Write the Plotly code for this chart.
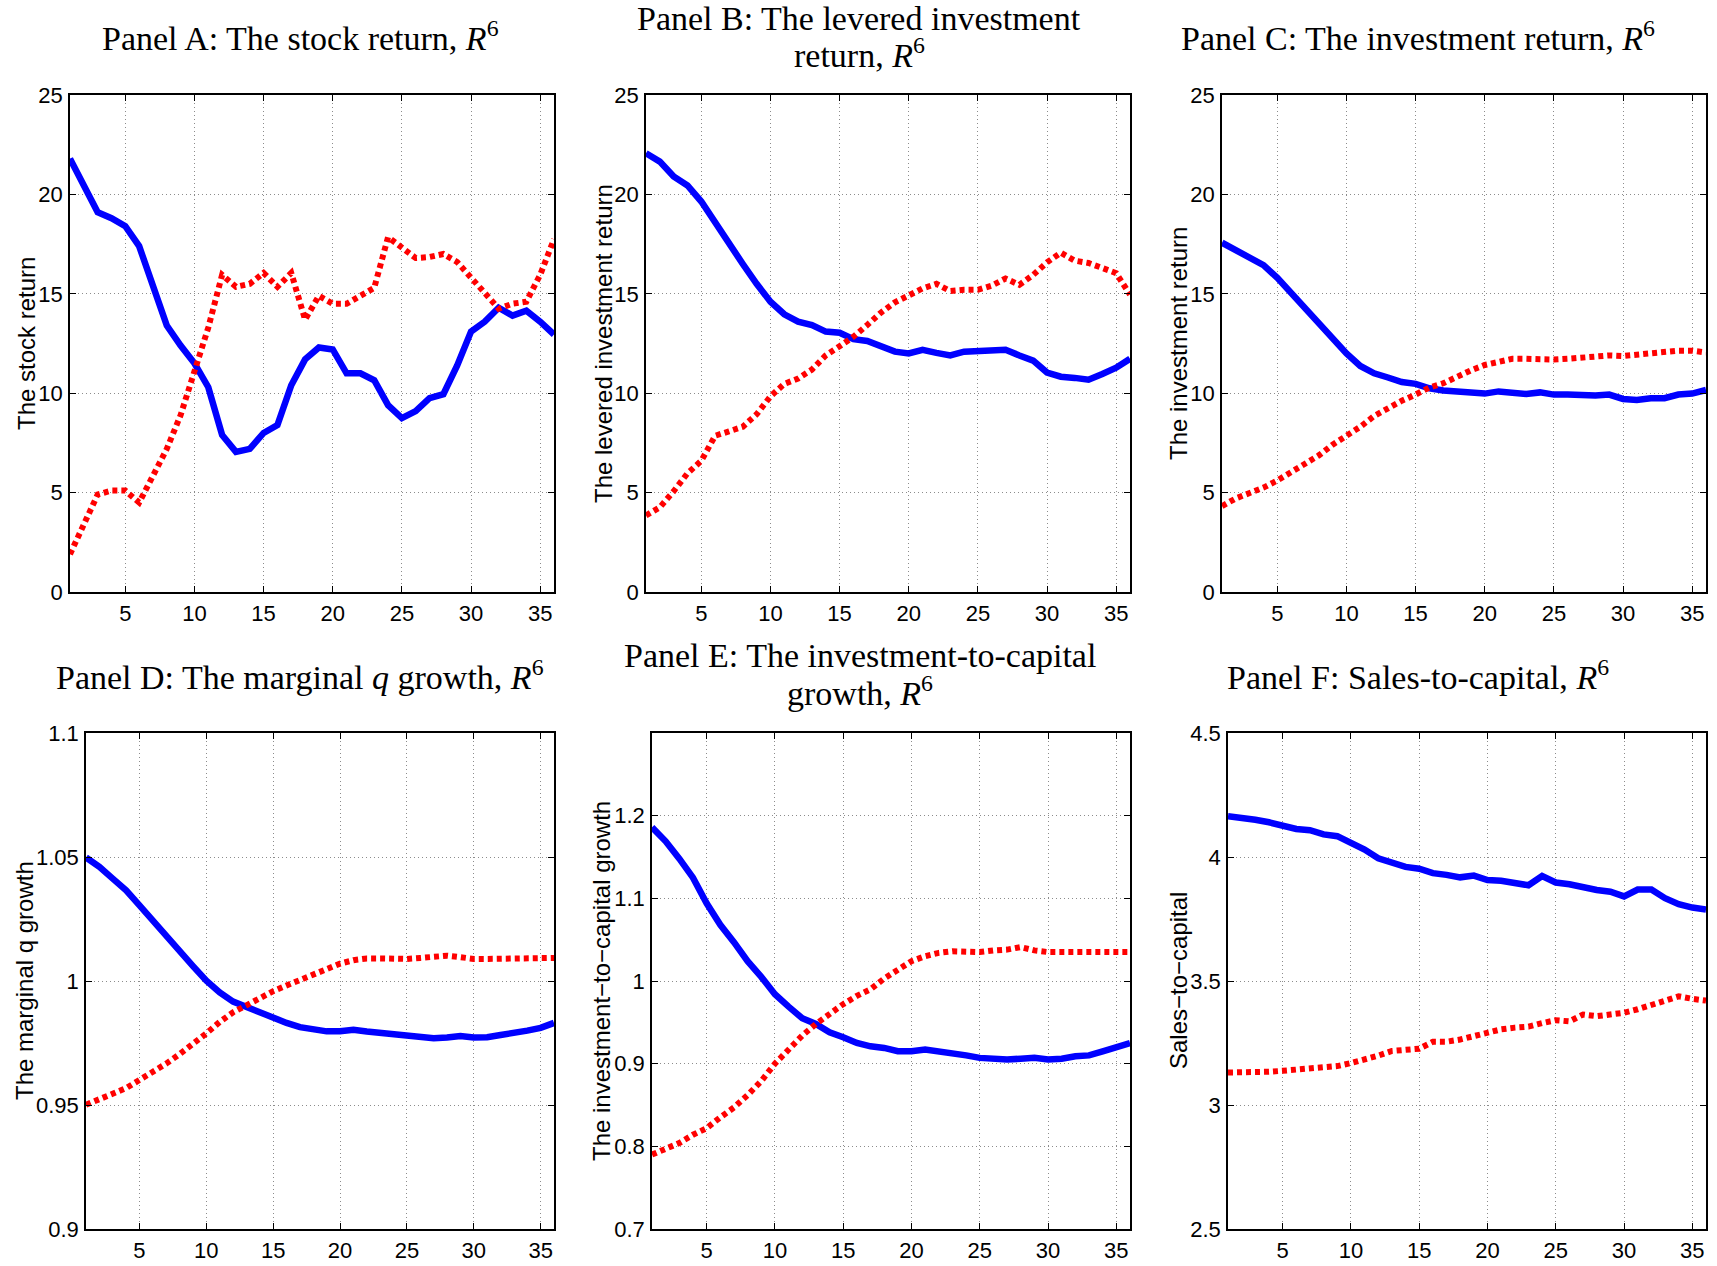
import plotly.graph_objects as go
from plotly.subplots import make_subplots

months = list(range(1, 37))

# Panel A: stock return
a_blue = [21.8, 20.5, 19.1, 18.8, 18.4, 17.4, 15.3, 13.4, 12.4, 11.5, 10.3, 7.9,
          7.05, 7.2, 8.0, 8.4, 10.4, 11.7, 12.3, 12.2, 11.0, 11.0, 10.65, 9.4,
          8.75, 9.1, 9.75, 9.95, 11.4, 13.1, 13.6, 14.3, 13.9, 14.15, 13.6, 12.95]
a_red = [1.9, 3.4, 4.9, 5.1, 5.1, 4.5, 5.9, 7.2, 8.9, 11.2, 13.3, 15.95,
         15.35, 15.5, 16.05, 15.35, 16.05, 13.7, 14.9, 14.5, 14.5, 14.9, 15.3, 17.85,
         17.3, 16.8, 16.85, 17.0, 16.6, 15.85, 15.05, 14.25, 14.5, 14.6, 15.95, 17.75]

# Panel B: levered investment return
b_blue = [22.07, 21.65, 20.9, 20.45, 19.64, 18.56, 17.57, 16.5, 15.5, 14.6, 13.97, 13.6,
          13.43, 13.1, 13.04, 12.72, 12.63, 12.36, 12.09, 12.0, 12.18, 12.03, 11.9, 12.09,
          12.12, 12.18, 12.18, 11.9, 11.64, 11.04, 10.83, 10.77, 10.68, 10.97, 11.28, 11.73]
b_red = [3.85, 4.26, 5.07, 5.97, 6.6, 7.86, 8.08, 8.31, 8.94, 9.84, 10.47, 10.74,
         11.19, 11.9, 12.36, 12.84, 13.43, 14.06, 14.57, 14.96, 15.27, 15.5, 15.14, 15.2,
         15.2, 15.41, 15.77, 15.45, 15.95, 16.58, 17.07, 16.67, 16.55, 16.3, 16.04, 14.96]

# Panel C: investment return
c_blue = [17.57, 17.21, 16.8, 16.44, 15.8, 15.05, 14.33, 13.5, 12.8, 12.0, 11.37, 11.0,
          10.79, 10.56, 10.47, 10.25, 10.14, 10.07, 10.04, 9.98, 10.09, 10.02, 9.96, 10.04,
          9.93, 9.93, 9.9, 9.88, 9.93, 9.71, 9.66, 9.75, 9.75, 9.93, 9.98, 10.16]
c_red = [4.32, 4.71, 4.98, 5.25, 5.61, 6.06, 6.42, 6.87, 7.41, 7.86, 8.31, 8.85,
         9.24, 9.62, 9.93, 10.29, 10.5, 10.86, 11.15, 11.42, 11.58, 11.73, 11.73, 11.69,
         11.69, 11.73, 11.8, 11.9, 11.9, 11.87, 11.94, 11.98, 12.03, 12.14, 12.14, 12.05]

# Panel D: marginal q growth
d_blue = [1.0498, 1.046, 1.0413, 1.0366, 1.0305, 1.0242, 1.0186, 1.0119, 1.006, 1.0001, 0.9954, 0.9917,
          0.9894, 0.987, 0.9852, 0.9831, 0.9814, 0.9807, 0.9797, 0.9797, 0.9803, 0.9796, 0.979, 0.9783,
          0.9776, 0.9772, 0.9769, 0.9772, 0.9778, 0.9772, 0.9773, 0.9782, 0.9789, 0.98, 0.9811, 0.9831]
d_red = [0.9501, 0.9522, 0.9545, 0.9568, 0.9601, 0.9632, 0.9667, 0.9705, 0.9744, 0.9789, 0.9835, 0.9874,
         0.9902, 0.9933, 0.9959, 0.9982, 1.0004, 1.0032, 1.0053, 1.007, 1.0084, 1.0091, 1.0091, 1.0088,
         1.0089, 1.0093, 1.0096, 1.0102, 1.0096, 1.0089, 1.0089, 1.0089, 1.0089, 1.0091, 1.0091, 1.0093]

# Panel E: investment-to-capital growth
e_blue = [1.186, 1.169, 1.148, 1.125, 1.094, 1.068, 1.047, 1.024, 1.005, 0.984, 0.969, 0.955,
          0.948, 0.938, 0.932, 0.925, 0.921, 0.919, 0.915, 0.915, 0.917, 0.915, 0.913, 0.910,
          0.907, 0.906, 0.905, 0.906, 0.907, 0.905, 0.906, 0.909, 0.910, 0.915, 0.919, 0.925]
e_red = [0.790, 0.797, 0.804, 0.814, 0.822, 0.835, 0.847, 0.862, 0.879, 0.900, 0.917, 0.934,
         0.948, 0.961, 0.972, 0.982, 0.990, 1.003, 1.014, 1.024, 1.030, 1.034, 1.036, 1.035,
         1.035, 1.037, 1.038, 1.041, 1.037, 1.035, 1.035, 1.035, 1.035, 1.035, 1.035, 1.035]

# Panel F: sales-to-capital
f_blue = [4.164, 4.159, 4.150, 4.140, 4.124, 4.113, 4.108, 4.091, 4.084, 4.058, 4.030, 3.995,
          3.979, 3.960, 3.953, 3.935, 3.928, 3.918, 3.925, 3.907, 3.904, 3.894, 3.886, 3.923,
          3.897, 3.890, 3.876, 3.867, 3.860, 3.841, 3.869, 3.869, 3.834, 3.810, 3.796, 3.788]
f_red = [3.131, 3.131, 3.131, 3.134, 3.138, 3.143, 3.148, 3.148, 3.157, 3.169, 3.183, 3.199,
         3.218, 3.222, 3.227, 3.255, 3.255, 3.264, 3.278, 3.295, 3.305, 3.312, 3.316, 3.330,
         3.342, 3.337, 3.365, 3.358, 3.365, 3.372, 3.386, 3.404, 3.424, 3.438, 3.428, 3.421]

x_ticks = [5, 10, 15, 20, 25, 30, 35]

# title lines per panel
title_lines = [
    ["Panel A: The stock return, <i>R</i><sup>6</sup>"],
    ["Panel B: The levered investment", "return, <i>R</i><sup>6</sup>"],
    ["Panel C: The investment return, <i>R</i><sup>6</sup>"],
    ["Panel D: The marginal <i>q</i> growth, <i>R</i><sup>6</sup>"],
    ["Panel E: The investment-to-capital", "growth, <i>R</i><sup>6</sup>"],
    ["Panel F: Sales-to-capital, <i>R</i><sup>6</sup>"],
]
ylabels = [
    "The stock return",
    "The levered investment return",
    "The investment return",
    "The marginal q growth",
    "The investment\u2212to\u2212capital growth",
    "Sales\u2212to\u2212capital",
]
y_ranges = [[0, 25], [0, 25], [0, 25], [0.9, 1.1], [0.7, 1.3], [2.5, 4.5]]
y_tickvals = [
    [0, 5, 10, 15, 20, 25],
    [0, 5, 10, 15, 20, 25],
    [0, 5, 10, 15, 20, 25],
    [0.9, 0.95, 1.0, 1.05, 1.1],
    [0.7, 0.8, 0.9, 1.0, 1.1, 1.2],
    [2.5, 3.0, 3.5, 4.0, 4.5],
]
y_ticktext = [
    ["0", "5", "10", "15", "20", "25"],
    ["0", "5", "10", "15", "20", "25"],
    ["0", "5", "10", "15", "20", "25"],
    ["0.9", "0.95", "1", "1.05", "1.1"],
    ["0.7", "0.8", "0.9", "1", "1.1", "1.2"],
    ["2.5", "3", "3.5", "4", "4.5"],
]
blues = [a_blue, b_blue, c_blue, d_blue, e_blue, f_blue]
reds = [a_red, b_red, c_red, d_red, e_red, f_red]

W, H = 1717, 1266
# plot areas in pixels: (left, right, top, bottom)
boxes = [
    (70, 554, 95, 592),
    (646, 1130, 95, 592),
    (1222, 1706, 95, 592),
    (86, 554, 733, 1229),
    (652, 1130, 733, 1229),
    (1228, 1706, 733, 1229),
]
# title centre x and y of each line, in pixels
title_x = [300, 859, 1418, 300, 860, 1418]
title_y = [[36], [18, 53], [36], [675], [656, 691], [675]]
ylabel_pos = [(26, 344), (603, 344), (1178, 344), (25, 981), (602, 981), (1179, 981)]

TITLE_SIZE = 34

fig = make_subplots(rows=2, cols=3)

tick_font = dict(family="Liberation Sans Narrow, Arial Narrow, Liberation Sans, Arial", size=22, color="black")

for i in range(6):
    r, c = i // 3 + 1, i % 3 + 1
    fig.add_trace(go.Scatter(x=months, y=blues[i], mode="lines",
                             line=dict(color="#0000FF", width=6.5), showlegend=False),
                  row=r, col=c)
    fig.add_trace(go.Scatter(x=months, y=reds[i], mode="lines",
                             line=dict(color="#FF0000", width=6, dash="5px,4px"), showlegend=False),
                  row=r, col=c)
    l, rt, t, b = boxes[i]
    xa = "xaxis" if i == 0 else f"xaxis{i+1}"
    ya = "yaxis" if i == 0 else f"yaxis{i+1}"
    common = dict(ticks="inside", ticklen=6, tickcolor="black", mirror="ticks",
                  showline=True, linecolor="black", linewidth=1.5,
                  showgrid=True, gridcolor="#8c8c8c", griddash="1px,3px", gridwidth=1,
                  zeroline=False, tickfont=tick_font)
    fig.update_layout({
        xa: dict(domain=[l / W, rt / W], range=[1, 36], tickvals=x_ticks,
                 ticklabelstandoff=1, **common),
        ya: dict(domain=[1 - b / H, 1 - t / H], range=y_ranges[i],
                 tickvals=y_tickvals[i], ticktext=y_ticktext[i],
                 ticklabelstandoff=1, **common),
    })
    for line_text, ly in zip(title_lines[i], title_y[i]):
        fig.add_annotation(x=title_x[i] / W, y=1 - ly / H, xref="paper", yref="paper",
                           text=line_text, showarrow=False, xanchor="center", yanchor="middle",
                           font=dict(family="Liberation Serif, DejaVu Serif, serif",
                                     size=TITLE_SIZE, color="black"))
    lx, ly = ylabel_pos[i]
    fig.add_annotation(x=lx / W, y=1 - ly / H, xref="paper", yref="paper",
                       text=ylabels[i], showarrow=False, textangle=-90,
                       xanchor="center", yanchor="middle",
                       font=dict(family="Liberation Sans, Arial, sans-serif", size=24, color="black"))

fig.update_layout(width=W, height=H, autosize=False,
                  margin=dict(l=0, r=0, t=0, b=0, autoexpand=False),
                  paper_bgcolor="white", plot_bgcolor="white")

fig.write_html("out.html")
